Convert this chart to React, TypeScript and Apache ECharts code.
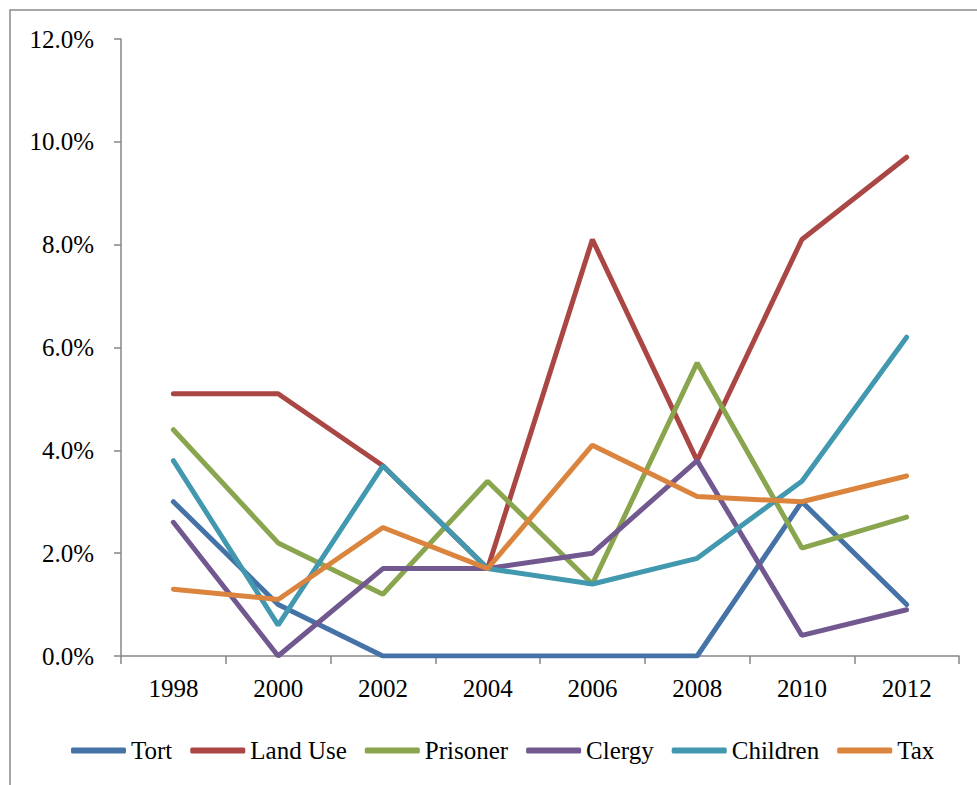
import React, { useEffect, useRef } from "react";
import * as echarts from "echarts";

const years = ["1998", "2000", "2002", "2004", "2006", "2008", "2010", "2012"];
const tort = [3.0, 1.0, 0, 0, 0, 0, 3.0, 1.0];
const landUse = [5.1, 5.1, 3.7, 1.7, 8.1, 3.8, 8.1, 9.7];
const prisoner = [4.4, 2.2, 1.2, 3.4, 1.4, 5.7, 2.1, 2.7];
const clergy = [2.6, 0, 1.7, 1.7, 2.0, 3.8, 0.4, 0.9];
const children = [3.8, 0.6, 3.7, 1.7, 1.4, 1.9, 3.4, 6.2];
const tax = [1.3, 1.1, 2.5, 1.7, 4.1, 3.1, 3.0, 3.5];

const seriesNames = ["Tort", "Land Use", "Prisoner", "Clergy", "Children", "Tax"];
const seriesData = [tort, landUse, prisoner, clergy, children, tax];
const colors = ["#4572A7", "#AA4643", "#89A54E", "#71588F", "#4198AF", "#DB843D"];

const FONT = "Liberation Serif";

export default function App() {
  const ref = useRef<HTMLDivElement>(null);
  useEffect(() => {
    if (!ref.current) return;
    const chart = echarts.init(ref.current, undefined, { renderer: "svg" });
    chart.setOption({
      animation: false,
      color: colors,
      textStyle: { fontFamily: FONT },
      graphic: [
        {
          type: "rect",
          shape: { x: 10, y: 10, width: 1200, height: 1200 },
          style: { fill: "none", stroke: "#8a8a8a", lineWidth: 1.5 },
          silent: true,
        },
      ],
      grid: { left: 121, right: 18, top: 39, bottom: 129 },
      xAxis: {
        type: "category",
        data: years,
        boundaryGap: true,
        axisLine: { lineStyle: { color: "#868686", width: 1.5 } },
        axisTick: { show: true, length: 8, alignWithLabel: false, lineStyle: { color: "#868686", width: 1.5 } },
        axisLabel: { color: "#000", fontSize: 25, fontFamily: FONT, margin: 20 },
        splitLine: { show: false },
      },
      yAxis: {
        type: "value",
        min: 0,
        max: 12,
        interval: 2,
        axisLine: { show: true, lineStyle: { color: "#868686", width: 1.5 } },
        axisTick: { show: true, length: 7, lineStyle: { color: "#868686", width: 1.5 } },
        axisLabel: {
          color: "#000",
          fontSize: 25,
          fontFamily: FONT,
          margin: 27,
          formatter: (v: number) => v.toFixed(1) + "%",
        },
        splitLine: { show: false },
      },
      legend: {
        data: seriesNames,
        left: 66,
        top: 733,
        icon: "roundRect",
        itemWidth: 55,
        itemHeight: 6,
        itemGap: 18,
        formatter: (name: string) => "{s|" + name + "}",
        textStyle: {
          color: "#000",
          fontSize: 25,
          fontFamily: FONT,
          rich: { s: { color: "#000", fontSize: 25, fontFamily: FONT } },
        },
      },
      series: seriesNames.map((name, i) => ({
        name,
        type: "line",
        data: seriesData[i],
        symbol: "none",
        showSymbol: false,
        lineStyle: { width: 5, color: colors[i], cap: "round" },
        itemStyle: { color: colors[i] },
      })),
    });
    return () => chart.dispose();
  }, []);
  return (
    <div
      ref={ref}
      style={{ position: "fixed", left: 0, top: 0, width: 977, height: 785, background: "#fff" }}
    />
  );
}
